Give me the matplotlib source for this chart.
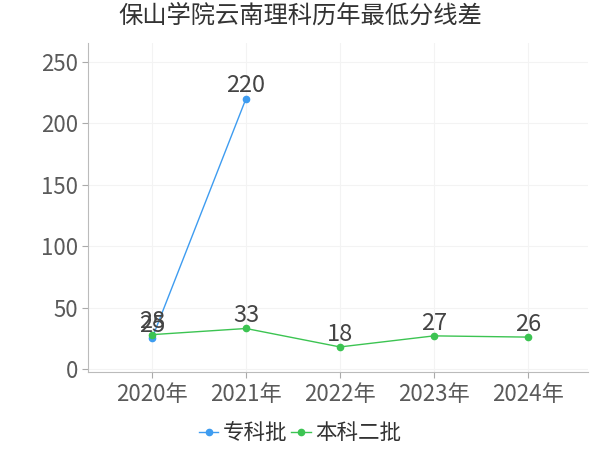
import matplotlib
matplotlib.use("Agg")
import matplotlib.pyplot as plt

plt.rcParams['font.family'] = ['Noto Sans CJK SC', 'DejaVu Sans']

years = ["2020年", "2021年", "2022年", "2023年", "2024年"]
zhuanke = [25, 220]
benke2 = [28, 33, 18, 27, 26]

blue = "#3e9cf0"
green = "#3cc452"
txt = "#5a5a5a"

fig = plt.figure(figsize=(6, 4.5), dpi=100)
ax = fig.add_axes([0.147, 0.173, 0.833, 0.731])

x_all = list(range(len(years)))
ax.plot(x_all[:len(zhuanke)], zhuanke, "-o", color=blue, lw=1, ms=4.5, label="专科批", zorder=3)
ax.plot(x_all, benke2, "-o", color=green, lw=1, ms=4.5, label="本科二批", zorder=3)

for xi, v in zip(x_all, zhuanke):
    ax.text(xi, v + 1, str(v), ha="center", va="bottom", fontsize=17, color="#444444")
for xi, v in zip(x_all, benke2):
    ax.text(xi, v + 1, str(v), ha="center", va="bottom", fontsize=17, color="#444444")

ax.set_xlim(-0.68, 4.64)
ax.set_ylim(-2.5, 265)
ax.set_yticks([0, 50, 100, 150, 200, 250])
ax.set_xticks(x_all)
ax.set_xticklabels(years)
ax.tick_params(colors="#aaaaaa", labelcolor=txt, labelsize=16, length=4)
ax.grid(True, color="#f3f3f3", lw=0.8)
ax.set_axisbelow(True)
for s in ["top", "right"]:
    ax.spines[s].set_visible(False)
for s in ["left", "bottom"]:
    ax.spines[s].set_color("#bbbbbb")

fig.suptitle("保山学院云南理科历年最低分线差", x=0.5, y=0.995, fontsize=17.5, color="#333333")

fig.legend(loc="lower center", bbox_to_anchor=(0.5, -0.03), ncol=2, frameon=False,
           fontsize=15.5, handlelength=0.9, handletextpad=0.2, columnspacing=0.2,
           labelcolor="#333333")

fig.savefig("out.png", dpi=100)
